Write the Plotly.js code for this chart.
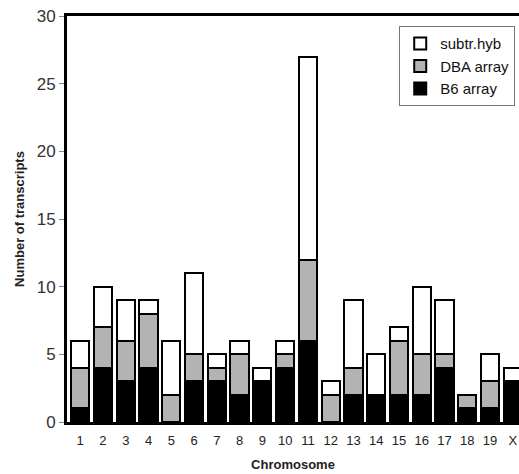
<!DOCTYPE html>
<html>
<head>
<meta charset="utf-8">
<script src="https://cdn.plot.ly/plotly-3.0.1.min.js"></script>
<style>html,body{margin:0;padding:0;background:#fff;}#chart{width:519px;height:474px;}</style>
</head>
<body>
<div id="chart"></div>
<script>
const chromosomes = ["1","2","3","4","5","6","7","8","9","10","11","12","13","14","15","16","17","18","19","X"];
const b6Array   = [1,4,3,4,0,3,3,2,3,4,6,0,2,2,2,2,4,1,1,3];
const dbaArray  = [3,3,3,4,2,2,1,3,0,1,6,2,2,0,4,3,1,1,2,0];
const subtrHyb  = [2,3,3,1,4,6,1,1,1,1,15,1,5,3,1,5,4,0,2,1];
const yTicks = [0,5,10,15,20,25,30];

const line = {color:'#000', width:2};
const traces = [
  {type:'bar', name:'B6 array', x:chromosomes, y:b6Array, marker:{color:'#000', line:line}},
  {type:'bar', name:'DBA array', x:chromosomes, y:dbaArray, marker:{color:'#b3b3b3', line:line}},
  {type:'bar', name:'subtr.hyb', x:chromosomes, y:subtrHyb, marker:{color:'#fff', line:line}}
];
const font = {family:'"Liberation Sans", Arial, sans-serif', color:'#222'};
const layout = {
  width:519, height:474,
  margin:{l:67, r:0, t:16, b:52},
  barmode:'stack', bargap:0.2,
  paper_bgcolor:'#fff', plot_bgcolor:'#fff',
  font:font,
  showlegend:true,
  legend:{x:0.735, y:0.975, xanchor:'left', yanchor:'top', traceorder:'reversed',
          bordercolor:'#777', borderwidth:1, bgcolor:'#fff', itemwidth:30,
          font:{family:font.family, size:15, color:'#111'}},
  xaxis:{type:'category', range:[-0.58, 19.27], showgrid:false, zeroline:false,
         showline:true, linecolor:'#000', linewidth:3, mirror:true, ticks:'',
         ticklabelstandoff:4,
         tickfont:{size:13, color:'#222'},
         title:{text:'<b>Chromosome</b>', font:{size:13, color:'#222'}, standoff:14}},
  yaxis:{range:[0,30], tickvals:yTicks, showgrid:false, zeroline:false,
         showline:true, linecolor:'#000', linewidth:3, ticks:'outside', ticklen:5, tickcolor:'#888',
         tickfont:{size:17, color:'#333'},
         title:{text:'<b>Number of transcripts</b>', font:{size:13, color:'#222'}, standoff:10}}
};
Plotly.newPlot('chart', traces, layout, {displayModeBar:false, staticPlot:true});
</script>
</body>
</html>
